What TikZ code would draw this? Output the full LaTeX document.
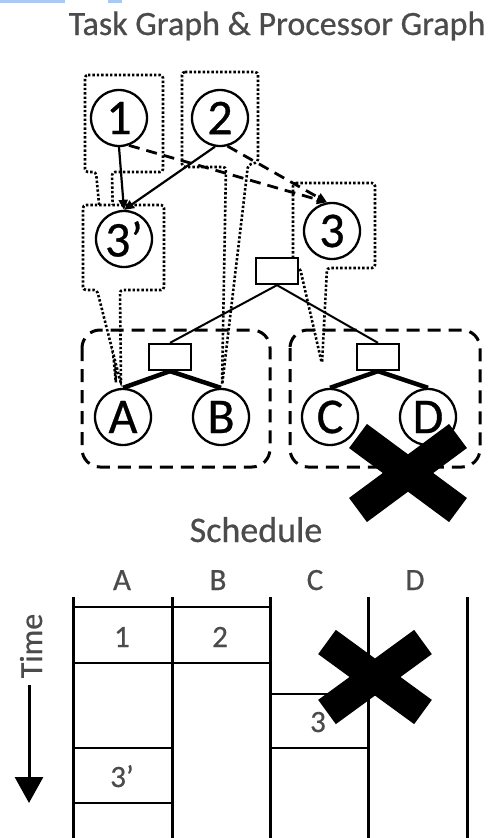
\documentclass[tikz,border=0pt]{standalone}
\usepackage{fontspec}
\setmainfont{Carlito}
\newfontfamily\heavy{Carlito}[FakeBold=0.6]
\usetikzlibrary{arrows.meta}
\definecolor{txtgray}{RGB}{75,75,75}
\definecolor{selblue}{RGB}{170,200,240}
\begin{document}
\begin{tikzpicture}[x=1pt,y=-1pt,
  task/.style={circle,draw,line width=2.3pt,minimum size=56pt,inner sep=0pt,font=\heavy\fontsize{50}{50}\selectfont},
  proc/.style={rectangle,draw,line width=2.3pt,minimum width=42pt,minimum height=26pt,inner sep=0pt,fill=white},
  callout/.style={draw,line width=2.6pt,dash pattern=on 2.4pt off 2pt,fill=white,rounded corners=3pt},
  group/.style={draw,line width=3pt,dash pattern=on 13pt off 8pt,rounded corners=18pt},
  depend/.style={line width=2.2pt,-{Triangle[length=10pt,width=9pt]}},
  remote/.style={line width=2.8pt,dash pattern=on 11pt off 7pt,-{Triangle[length=10pt,width=9pt]}},
  link/.style={line width=2pt},
  fat/.style={line width=4.5pt},
  cross/.style={line width=30pt,line cap=butt},
  grid/.style={line width=2.6pt},
  lbl/.style={text=txtgray,inner sep=0pt,anchor=base,font=\heavy\fontsize{31}{31}\selectfont},
]
\useasboundingbox (0,0) rectangle (499,838);
\fill[selblue] (0,0) rectangle (65,3);
\fill[selblue] (108,0) rectangle (122,3);

\node[lbl,font=\heavy\fontsize{34}{34}\selectfont] (title) at (277,35) {Task Graph \& Processor Graph};

% callouts (task -> processor mapping)
\draw[callout] (182,72) -- (258,72) -- (258,162) -- (248,165) -- (222,386) -- (226,167) -- (182,167) -- cycle;
\draw[callout] (85,75) -- (163,75) -- (163,172) -- (112,172) -- (116,384) -- (96,172) -- (85,172) -- cycle;
\draw[callout] (293,183) -- (375,183) -- (375,268) -- (327,268) -- (322,364) -- (300,268) -- (293,268) -- cycle;
\draw[callout] (83,205) -- (164,205) -- (164,290) -- (120,290) -- (121,384) -- (97,290) -- (83,290) -- cycle;

% processor groups
\draw[group] (82,330) rectangle (270,467);
\draw[group] (290,330) rectangle (480,467);

% task graph
\node[task] (n1) at (119,118) {1};
\node[task] (n2) at (220,118) {2};
\node[task] (n3p) at (124,239) {3’};
\node[task] (n3) at (332,231) {3};
\draw[depend] (n1.south) -- (n3p.north);
\draw[depend] (n2.-100) -- (n3p.north);
\draw[remote] (n1.-70) -- (n3.100);
\draw[remote] (n2.-75) -- (n3.100);

% processor graph
\node[proc] (r0) at (277,271) {};
\node[proc] (rL) at (170,357) {};
\node[proc] (rR) at (378,357) {};
\node[task] (A) at (123,417) {A};
\node[task] (B) at (221,417) {B};
\node[task] (C) at (330,417) {C};
\node[task] (D) at (428,417) {D};
\draw[link] (r0.south) -- (rL.north);
\draw[link] (r0.south) -- (rR.north);
\draw[fat] (rL.south) -- (A.north);
\draw[fat] (rL.south) -- (B.north);
\draw[fat] (rR.south) -- (C.north);
\draw[fat] (rR.south) -- (D.north);
\draw[cross] (358,436) -- (458,510);
\draw[cross] (458,436) -- (358,510);

% schedule
\node[lbl,font=\heavy\fontsize{36}{36}\selectfont] (sched) at (256,542) {Schedule};
\node[lbl] (hA) at (122,590) {A};
\node[lbl] (hB) at (218,590) {B};
\node[lbl] (hC) at (315,590) {C};
\node[lbl] (hD) at (415,590) {D};
\foreach \x in {73,172,270,368,467} \draw[line width=3pt] (\x,597) -- (\x,838);
\draw[grid] (73,607) -- (270,607);
\draw[grid] (73,663) -- (270,663);
\draw[grid] (270,694) -- (368,694);
\draw[grid] (73,748) -- (172,748);
\draw[grid] (270,748) -- (368,748);
\draw[grid] (73,803) -- (172,803);
\node[lbl] (s1) at (122,647) {1};
\node[lbl] (s2) at (220,647) {2};
\node[lbl] (s3) at (318,732) {3};
\node[lbl] (s3p) at (122,787) {3’};
\draw[cross] (327,642) -- (423,712);
\draw[cross] (423,642) -- (327,712);

% time axis
\node[lbl,rotate=90,font=\heavy\fontsize{32}{32}\selectfont] (time) at (42,646) {Time};
\coordinate (tstart) at (29,685);
\coordinate (tend) at (29,803);
\draw[line width=3pt,-{Triangle[length=26pt,width=28pt]}] (tstart) -- (tend);
\end{tikzpicture}
\end{document}
